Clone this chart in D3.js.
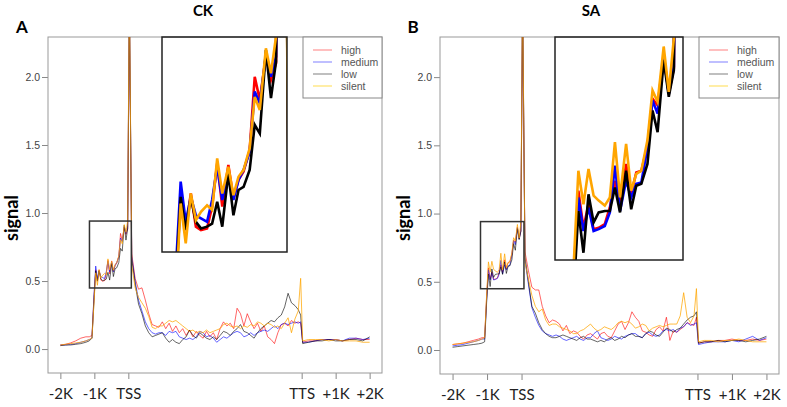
<!DOCTYPE html>
<html>
<head>
<meta charset="utf-8">
<script src="https://cdn.jsdelivr.net/npm/d3@7"></script>
<style>
  body { margin: 0; background: #fff; }
  svg { display: block; }
</style>
</head>
<body>
<svg id="chart"></svg>
<script>
// bin positions in kb (gene body scaled to 5.1 units between TSS and TTS)
const binX = [
  -2.0, -1.85, -1.7, -1.55, -1.4, -1.25, -1.15, -1.07,
  -1.01,
  -0.96, -0.91, -0.86, -0.81, -0.76, -0.70, -0.65, -0.60, -0.55, -0.49,
  -0.44, -0.39, -0.34, -0.28, -0.23, -0.18, -0.12, -0.07, -0.02,
  0.03,
  0.1, 0.2, 0.3, 0.4, 0.5, 0.6, 0.7, 0.8, 0.9,
  1.0, 1.1, 1.2, 1.3, 1.4, 1.5, 1.6, 1.7, 1.8, 1.9,
  2.0, 2.1, 2.2, 2.3, 2.4, 2.5, 2.6, 2.7, 2.8, 2.9,
  3.0, 3.1, 3.2, 3.3, 3.4, 3.5, 3.6, 3.7, 3.8, 3.9,
  4.0, 4.1, 4.2, 4.3, 4.4, 4.5, 4.6, 4.7, 4.8, 4.9,
  5.0,
  5.07,
  5.13, 5.3, 5.5, 5.7, 5.9, 6.1, 6.3, 6.5, 6.7, 6.9, 7.1
];

const xTickPos = [-2, -1, 0, 5.1, 6.1, 7.1];
const xTickLabels = ["-2K", "-1K", "TSS", "TTS", "+1K", "+2K"];
const yTicks = [0, 0.5, 1.0, 1.5, 2.0];
const seriesNames = ["high", "medium", "low", "silent"];
const seriesColors = ["#ff0000", "#0000ff", "#000000", "#ffa500"];

// CK
const ckHigh = [
  0.03, 0.035, 0.045, 0.06, 0.08, 0.09, 0.09, 0.10,
  0.38,
  0.583, 0.499, 0.583, 0.507, 0.499, 0.503, 0.553, 0.652, 0.553, 0.648,
  0.572, 0.614, 0.633, 0.682, 0.850, 0.797, 0.896, 0.843, 0.881,
  2.5,
  0.70, 0.52, 0.44, 0.45, 0.36, 0.26, 0.18, 0.17, 0.16,
  0.20, 0.15, 0.19, 0.13, 0.17, 0.12, 0.15, 0.10, 0.14, 0.09,
  0.13, 0.10, 0.08, 0.13, 0.09, 0.12, 0.07, 0.15, 0.20, 0.17,
  0.19, 0.15, 0.30, 0.26, 0.17, 0.26, 0.20, 0.15, 0.19, 0.13,
  0.17, 0.09, 0.07, 0.04, 0.12, 0.18, 0.19, 0.17, 0.21, 0.19,
  0.20,
  0.19,
  0.05, 0.06, 0.06, 0.07, 0.07, 0.07, 0.06, 0.07, 0.08, 0.07, 0.07
];
const ckMedium = [
  0.03, 0.03, 0.035, 0.04, 0.05, 0.06, 0.07, 0.08,
  0.40,
  0.610, 0.518, 0.575, 0.533, 0.526, 0.518, 0.568, 0.644, 0.568, 0.637,
  0.568, 0.614, 0.637, 0.678, 0.816, 0.789, 0.900, 0.850, 0.896,
  2.6,
  0.68, 0.50, 0.36, 0.28, 0.20, 0.15, 0.12, 0.11, 0.12,
  0.12, 0.10, 0.13, 0.12, 0.13, 0.09, 0.08, 0.07, 0.08, 0.07,
  0.09, 0.13, 0.12, 0.09, 0.10, 0.08, 0.05, 0.07, 0.09, 0.08,
  0.10, 0.12, 0.13, 0.12, 0.09, 0.10, 0.12, 0.10, 0.12, 0.13,
  0.14, 0.13, 0.15, 0.17, 0.15, 0.18, 0.19, 0.18, 0.19, 0.20,
  0.19,
  0.20,
  0.05, 0.05, 0.06, 0.07, 0.07, 0.07, 0.06, 0.08, 0.08, 0.07, 0.08
];
const ckLow = [
  0.025, 0.03, 0.03, 0.035, 0.04, 0.05, 0.06, 0.08,
  0.36,
  0.575, 0.499, 0.575, 0.518, 0.503, 0.507, 0.514, 0.564, 0.507, 0.629,
  0.533, 0.591, 0.598, 0.637, 0.740, 0.720, 0.911, 0.801, 0.885,
  2.6,
  0.66, 0.48, 0.33, 0.26, 0.17, 0.12, 0.09, 0.10, 0.11,
  0.12, 0.08, 0.05, 0.07, 0.05, 0.04, 0.07, 0.09, 0.14, 0.10,
  0.08, 0.12, 0.10, 0.08, 0.07, 0.09, 0.07, 0.10, 0.13, 0.12,
  0.10, 0.13, 0.15, 0.18, 0.13, 0.12, 0.10, 0.08, 0.12, 0.15,
  0.17, 0.19, 0.21, 0.20, 0.23, 0.25, 0.31, 0.41, 0.34, 0.32,
  0.29,
  0.25,
  0.04, 0.05, 0.06, 0.06, 0.07, 0.06, 0.06, 0.07, 0.07, 0.06, 0.09
];
const ckSilent = [
  0.03, 0.035, 0.04, 0.045, 0.05, 0.06, 0.07, 0.08,
  0.34,
  0.560, 0.469, 0.583, 0.522, 0.541, 0.556, 0.545, 0.663, 0.583, 0.644,
  0.579, 0.621, 0.637, 0.686, 0.804, 0.774, 0.915, 0.858, 0.942,
  2.7,
  0.62, 0.45, 0.38, 0.34, 0.30, 0.24, 0.16, 0.15, 0.17,
  0.17, 0.19, 0.21, 0.20, 0.21, 0.19, 0.17, 0.15, 0.13, 0.14,
  0.12, 0.13, 0.12, 0.14, 0.12, 0.13, 0.14, 0.15, 0.18, 0.19,
  0.17, 0.16, 0.17, 0.15, 0.17, 0.16, 0.18, 0.17, 0.20, 0.19,
  0.17, 0.19, 0.18, 0.16, 0.17, 0.15, 0.19, 0.23, 0.12, 0.22,
  0.28,
  0.52,
  0.06, 0.07, 0.07, 0.07, 0.06, 0.07, 0.06, 0.06, 0.06, 0.05, 0.05
];

// SA
const saHigh = [
  0.04, 0.045, 0.05, 0.06, 0.07, 0.08, 0.09, 0.09,
  0.40,
  0.602, 0.520, 0.572, 0.517, 0.520, 0.528, 0.565, 0.624, 0.569, 0.661,
  0.594, 0.642, 0.646, 0.702, 0.805, 0.790, 0.901, 0.816, 0.872,
  2.5,
  0.72, 0.58, 0.46, 0.44, 0.44, 0.32, 0.25, 0.20, 0.22,
  0.21, 0.19, 0.14, 0.18, 0.12, 0.14, 0.13, 0.10, 0.08, 0.11,
  0.12, 0.10, 0.08, 0.12, 0.13, 0.10, 0.09, 0.14, 0.19, 0.21,
  0.15, 0.20, 0.28, 0.24, 0.21, 0.14, 0.13, 0.11, 0.10, 0.15,
  0.17, 0.14, 0.24, 0.07, 0.14, 0.13, 0.15, 0.17, 0.20, 0.19,
  0.18,
  0.24,
  0.05, 0.06, 0.06, 0.07, 0.07, 0.08, 0.07, 0.07, 0.08, 0.07, 0.08
];
const saMedium = [
  0.03, 0.035, 0.04, 0.05, 0.06, 0.07, 0.08, 0.08,
  0.38,
  0.587, 0.513, 0.565, 0.513, 0.517, 0.524, 0.554, 0.657, 0.557, 0.624,
  0.587, 0.617, 0.620, 0.698, 0.801, 0.772, 0.897, 0.816, 0.875,
  2.6,
  0.66, 0.48, 0.31, 0.24, 0.18, 0.14, 0.12, 0.11, 0.10,
  0.11, 0.10, 0.08, 0.07, 0.08, 0.09, 0.10, 0.08, 0.07, 0.09,
  0.09, 0.12, 0.14, 0.09, 0.08, 0.07, 0.08, 0.10, 0.09, 0.08,
  0.10, 0.11, 0.12, 0.12, 0.10, 0.09, 0.12, 0.13, 0.11, 0.10,
  0.11, 0.14, 0.15, 0.14, 0.15, 0.13, 0.16, 0.17, 0.20, 0.18,
  0.19,
  0.20,
  0.04, 0.05, 0.06, 0.06, 0.06, 0.07, 0.06, 0.08, 0.10, 0.07, 0.09
];
const saLow = [
  0.02, 0.025, 0.03, 0.035, 0.04, 0.045, 0.05, 0.06,
  0.36,
  0.557, 0.465, 0.594, 0.532, 0.554, 0.557, 0.557, 0.609, 0.554, 0.646,
  0.561, 0.613, 0.617, 0.661, 0.779, 0.731, 0.890, 0.809, 0.868,
  2.6,
  0.68, 0.50, 0.32, 0.27, 0.20, 0.15, 0.12, 0.10, 0.09,
  0.09, 0.10, 0.11, 0.10, 0.09, 0.08, 0.07, 0.09, 0.10, 0.08,
  0.08, 0.07, 0.06, 0.07, 0.06, 0.08, 0.09, 0.07, 0.08, 0.10,
  0.09, 0.11, 0.12, 0.10, 0.10, 0.09, 0.12, 0.14, 0.13, 0.11,
  0.10, 0.13, 0.16, 0.15, 0.13, 0.15, 0.16, 0.19, 0.22, 0.24,
  0.25,
  0.28,
  0.05, 0.06, 0.06, 0.07, 0.06, 0.07, 0.07, 0.06, 0.07, 0.08, 0.10
];
const saSilent = [
  0.04, 0.045, 0.05, 0.055, 0.06, 0.07, 0.08, 0.09,
  0.42,
  0.646, 0.572, 0.650, 0.591, 0.580, 0.569, 0.587, 0.709, 0.587, 0.705,
  0.602, 0.639, 0.646, 0.713, 0.823, 0.798, 0.920, 0.820, 0.938,
  2.7,
  0.64, 0.52, 0.40, 0.32, 0.28, 0.30, 0.22, 0.18, 0.19,
  0.19, 0.17, 0.16, 0.15, 0.14, 0.12, 0.12, 0.14, 0.15, 0.17,
  0.19, 0.16, 0.14, 0.15, 0.17, 0.16, 0.15, 0.17, 0.20, 0.21,
  0.20, 0.21, 0.19, 0.16, 0.17, 0.19, 0.18, 0.14, 0.16, 0.17,
  0.18, 0.17, 0.18, 0.19, 0.19, 0.19, 0.25, 0.42, 0.24, 0.20,
  0.25,
  0.45,
  0.06, 0.07, 0.07, 0.06, 0.07, 0.07, 0.08, 0.07, 0.06, 0.06, 0.06
];

// zoomed promoter window (kb, signal)
const zoomY = [0.449, 0.941];

const W = 787, H = 407;
const svg = d3.select("#chart").attr("width", W).attr("height", H);

const panels = [
  { id: "ck", title: "CK", letter: "A", series: [ckHigh, ckMedium, ckLow, ckSilent],
    left: 48, right: 382, top: 37, bottom: 373,
    titleX: 203, letterX: 22, ylabX: 18,
    zoomX: [-1.144, 0.088], inset: { x0: 162, x1: 287, y1: 252 },
    legend: { x0: 303 } },
  { id: "sa", title: "SA", letter: "B", series: [saHigh, saMedium, saLow, saSilent],
    left: 440, right: 779, top: 37, bottom: 374,
    titleX: 591, letterX: 413, ylabX: 410,
    zoomX: [-1.19, 0.07], inset: { x0: 555, x1: 683, y1: 260 },
    legend: { x0: 699 } }
];

function drawPanel(p) {
  const g = svg.append("g");

  const x = d3.scaleLinear().domain([-2.364, 7.464]).range([p.left, p.right]);
  const y = d3.scaleLinear().domain([-0.176, 2.294]).range([p.bottom, p.top]);

  // clip for the main plot
  svg.append("clipPath").attr("id", "clip-" + p.id)
    .append("rect")
    .attr("x", p.left).attr("y", p.top)
    .attr("width", p.right - p.left).attr("height", p.bottom - p.top);

  // axes
  const yAxis = g.append("g").attr("transform", `translate(${p.left},0)`)
    .call(d3.axisLeft(y).tickValues(yTicks).tickFormat(d3.format(".1f")).tickSize(6).tickPadding(2));
  yAxis.select(".domain").remove();
  yAxis.selectAll("line").attr("stroke", "#888");
  yAxis.selectAll("text").attr("font-family", "Liberation Sans, Arial, sans-serif")
    .attr("font-size", 10.5).attr("fill", "#444");

  const xAxis = g.append("g").attr("transform", `translate(0,${p.bottom})`)
    .call(d3.axisBottom(x).tickValues(xTickPos).tickFormat((d, i) => xTickLabels[i]).tickSize(6).tickPadding(9));
  xAxis.select(".domain").remove();
  xAxis.selectAll("line").attr("stroke", "#888");
  xAxis.selectAll("text").attr("font-family", "Lato, 'Open Sans', sans-serif")
    .attr("font-size", 15).attr("fill", "#222");

  // frame
  g.append("rect")
    .attr("x", p.left).attr("y", p.top)
    .attr("width", p.right - p.left).attr("height", p.bottom - p.top)
    .attr("fill", "none").attr("stroke", "#999").attr("stroke-width", 1);

  // profile lines
  const line = d3.line().x(d => x(d[0])).y(d => y(d[1]));
  const lines = g.append("g").attr("clip-path", `url(#clip-${p.id})`);
  p.series.forEach((s, i) => {
    lines.append("path")
      .datum(binX.map((bx, j) => [bx, s[j]]))
      .attr("d", line)
      .attr("fill", "none")
      .attr("stroke", seriesColors[i])
      .attr("stroke-opacity", i === 3 ? 0.75 : 0.6)
      .attr("stroke-width", 1);
  });

  // small box marking the zoomed window
  g.append("rect")
    .attr("x", x(p.zoomX[0])).attr("y", y(zoomY[1]))
    .attr("width", x(p.zoomX[1]) - x(p.zoomX[0]))
    .attr("height", y(zoomY[0]) - y(zoomY[1]))
    .attr("fill", "none").attr("stroke", "#333").attr("stroke-width", 1.5);

  // inset
  const ix = d3.scaleLinear().domain(p.zoomX).range([p.inset.x0, p.inset.x1]);
  const iy = d3.scaleLinear().domain(zoomY).range([p.inset.y1, p.top]);
  svg.append("clipPath").attr("id", "iclip-" + p.id)
    .append("rect")
    .attr("x", p.inset.x0).attr("y", p.top)
    .attr("width", p.inset.x1 - p.inset.x0).attr("height", p.inset.y1 - p.top);
  const iline = d3.line().x(d => ix(d[0])).y(d => iy(d[1]));
  const ig = g.append("g").attr("clip-path", `url(#iclip-${p.id})`);
  p.series.forEach((s, i) => {
    ig.append("path")
      .datum(binX.map((bx, j) => [bx, s[j]]))
      .attr("d", iline)
      .attr("fill", "none")
      .attr("stroke", seriesColors[i])
      .attr("stroke-width", 2.6)
      .attr("stroke-linejoin", "miter");
  });
  g.append("rect")
    .attr("x", p.inset.x0).attr("y", p.top)
    .attr("width", p.inset.x1 - p.inset.x0).attr("height", p.inset.y1 - p.top)
    .attr("fill", "none").attr("stroke", "#222").attr("stroke-width", 1.5);

  // legend
  const lg = g.append("g");
  lg.append("rect")
    .attr("x", p.legend.x0).attr("y", p.top)
    .attr("width", p.right - p.legend.x0).attr("height", 61)
    .attr("fill", "#fff").attr("stroke", "#888").attr("stroke-width", 1);
  seriesNames.forEach((name, i) => {
    const ly = p.top + 13 + i * 12;
    lg.append("line")
      .attr("x1", p.legend.x0 + 10).attr("x2", p.legend.x0 + 29)
      .attr("y1", ly).attr("y2", ly)
      .attr("stroke", i === 3 ? "#ffd83a" : seriesColors[i])
      .attr("stroke-opacity", i === 3 ? 0.9 : 0.5)
      .attr("stroke-width", 1);
    lg.append("text")
      .attr("x", p.legend.x0 + 38).attr("y", ly + 3.5)
      .attr("font-family", "Liberation Sans, Arial, sans-serif")
      .attr("font-size", 10.5).attr("fill", "#555")
      .text(name);
  });

  // titles
  g.append("text")
    .attr("x", p.titleX).attr("y", 16)
    .attr("text-anchor", "middle")
    .attr("font-family", "Lato, 'Open Sans', sans-serif")
    .attr("font-weight", "bold").attr("font-size", 15)
    .text(p.title);
  g.append("text")
    .attr("x", p.letterX).attr("y", 33)
    .attr("text-anchor", "middle")
    .attr("font-family", "Lato, 'Open Sans', sans-serif")
    .attr("font-weight", "bold").attr("font-size", 17)
    .text(p.letter);
  g.append("text")
    .attr("transform", `translate(${p.ylabX},218) rotate(-90)`)
    .attr("text-anchor", "middle")
    .attr("font-family", "Lato, 'Open Sans', sans-serif")
    .attr("font-weight", "bold").attr("font-size", 18)
    .text("signal");
}

panels.forEach(drawPanel);
</script>
</body>
</html>
